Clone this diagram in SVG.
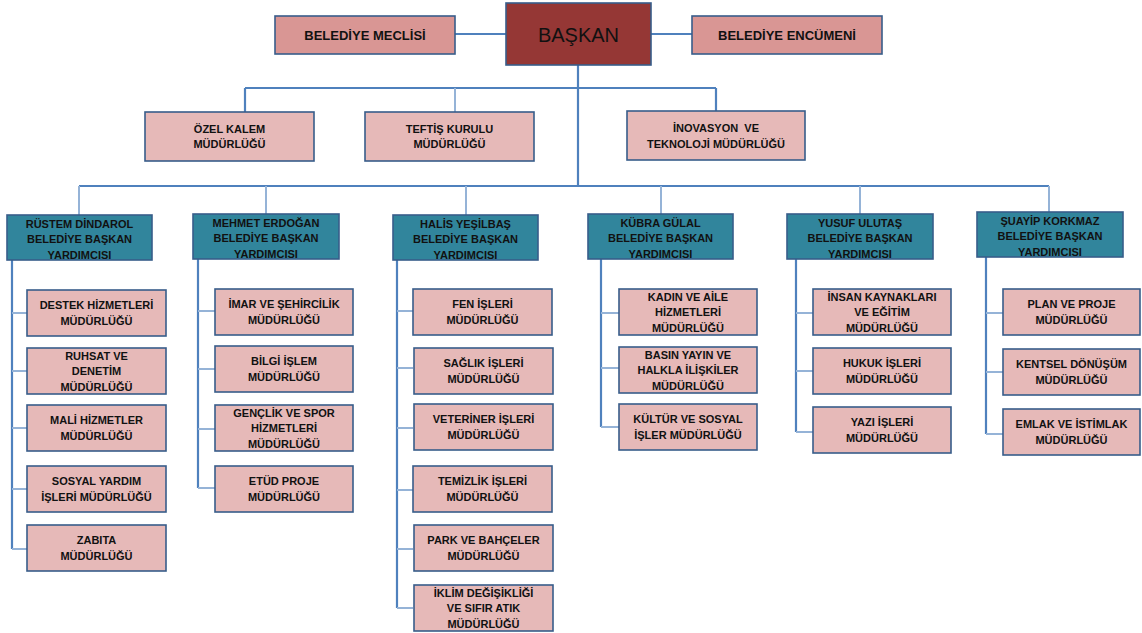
<svg xmlns="http://www.w3.org/2000/svg" width="1142" height="633" viewBox="0 0 1142 633">
<style>
  .bx{stroke:#385d8a;stroke-width:1.6}
  .top{fill:#d99694}
  .unit{fill:#e6b9b8}
  .dep{fill:#31859c}
  .head{fill:#953735}
  text{font-family:"Liberation Sans",Arial,sans-serif;font-weight:bold;fill:#111;text-anchor:middle}
  .t13{font-size:13px}
  .t11{font-size:11px}
  .t10{font-size:11px}
  .big{font-size:20px;font-weight:normal}
  .main{stroke:#4f81bd;stroke-width:2.2;fill:none}
  .sub{stroke:#95b3d7;stroke-width:2;fill:none}
</style>
<rect width="1142" height="633" fill="#ffffff"/>
<g id="connectors">
  <path class="main" d="M455,34H506M651,34H692M578,65V186M245,88H716M245,88V112M716,88V111M79,186H1049"/>
  <path class="sub" d="M455,88V112M79,186V215M266,186V214M466,186V215M661,186V214M860,186V214M1049,186V212"/>
  <path class="main" d="M12,260V549M198,259V488M397,260V608M601,259V427M796,259V432M986,257V434"/>
  <path class="sub" d="M12,313H27M12,371H27M12,428H27M12,489H27M12,549H27"/>
  <path class="sub" d="M198,311H215M198,369H215M198,429H215M198,488H215"/>
  <path class="sub" d="M397,311H413M397,368H413M397,428H413M397,490H413M397,549H413M397,608H413"/>
  <path class="sub" d="M601,313H619M601,368H619M601,427H619"/>
  <path class="sub" d="M796,313H813M796,371H813M796,432H813"/>
  <path class="sub" d="M986,313H1003M986,372H1003M986,434H1003"/>
</g>
<g id="baskan"><rect class="bx head" x="506" y="3" width="145" height="62"/><text class="big" x="578.5" y="42">BAŞKAN</text></g>
<g id="meclis"><rect class="bx top" x="275" y="16" width="180" height="38"/><text class="t13" x="365" y="40">BELEDİYE MECLİSİ</text></g>
<g id="encumen"><rect class="bx top" x="692" y="16" width="190" height="38"/><text class="t13" x="787" y="40">BELEDİYE ENCÜMENİ</text></g>
<g id="ozel-kalem"><rect class="bx unit" x="145" y="112" width="169" height="49"/><text class="t10" x="229.5" y="133">ÖZEL KALEM</text><text class="t10" x="229.5" y="148">MÜDÜRLÜĞÜ</text></g>
<g id="teftis"><rect class="bx unit" x="365" y="112" width="169" height="49"/><text class="t10" x="449.5" y="133">TEFTİŞ KURULU</text><text class="t10" x="449.5" y="148">MÜDÜRLÜĞÜ</text></g>
<g id="inovasyon"><rect class="bx unit" x="627" y="111" width="178" height="49"/><text class="t11" x="716" y="132" xml:space="preserve">İNOVASYON  VE</text><text class="t11" x="716" y="148">TEKNOLOJİ MÜDÜRLÜĞÜ</text></g>

<g id="dep-rustem"><rect class="bx dep" x="7" y="215" width="145" height="45"/><text class="t11" x="79.5" y="227.5">RÜSTEM DİNDAROL</text><text class="t11" x="79.5" y="243">BELEDİYE BAŞKAN</text><text class="t11" x="79.5" y="258.5">YARDIMCISI</text></g>
<g id="dep-mehmet"><rect class="bx dep" x="193" y="214" width="146" height="45"/><text class="t11" x="266" y="226.5">MEHMET ERDOĞAN</text><text class="t11" x="266" y="242">BELEDİYE BAŞKAN</text><text class="t11" x="266" y="257.5">YARDIMCISI</text></g>
<g id="dep-halis"><rect class="bx dep" x="393" y="215" width="145" height="45"/><text class="t11" x="465.5" y="227.5">HALİS YEŞİLBAŞ</text><text class="t11" x="465.5" y="243">BELEDİYE BAŞKAN</text><text class="t11" x="465.5" y="258.5">YARDIMCISI</text></g>
<g id="dep-kubra"><rect class="bx dep" x="588" y="214" width="145" height="45"/><text class="t11" x="660.5" y="226.5">KÜBRA GÜLAL</text><text class="t11" x="660.5" y="242">BELEDİYE BAŞKAN</text><text class="t11" x="660.5" y="257.5">YARDIMCISI</text></g>
<g id="dep-yusuf"><rect class="bx dep" x="787" y="214" width="146" height="45"/><text class="t11" x="860" y="226.5">YUSUF ULUTAŞ</text><text class="t11" x="860" y="242">BELEDİYE BAŞKAN</text><text class="t11" x="860" y="257.5">YARDIMCISI</text></g>
<g id="dep-suayip"><rect class="bx dep" x="977" y="212" width="146" height="45"/><text class="t11" x="1050" y="224.5">ŞUAYİP KORKMAZ</text><text class="t11" x="1050" y="240">BELEDİYE BAŞKAN</text><text class="t11" x="1050" y="255.5">YARDIMCISI</text></g>

<g id="destek"><rect class="bx unit" x="27" y="290" width="139" height="46"/><text class="t11" x="96.5" y="309.25">DESTEK HİZMETLERİ</text><text class="t11" x="96.5" y="324.75">MÜDÜRLÜĞÜ</text></g>
<g id="ruhsat"><rect class="bx unit" x="27" y="348" width="139" height="46"/><text class="t11" x="96.5" y="359.5">RUHSAT VE</text><text class="t11" x="96.5" y="375">DENETİM</text><text class="t11" x="96.5" y="390.5">MÜDÜRLÜĞÜ</text></g>
<g id="mali"><rect class="bx unit" x="27" y="405" width="139" height="46"/><text class="t11" x="96.5" y="424.25">MALİ HİZMETLER</text><text class="t11" x="96.5" y="439.75">MÜDÜRLÜĞÜ</text></g>
<g id="sosyal-yardim"><rect class="bx unit" x="27" y="466" width="139" height="46"/><text class="t11" x="96.5" y="485.25">SOSYAL YARDIM</text><text class="t11" x="96.5" y="500.75">İŞLERİ MÜDÜRLÜĞÜ</text></g>
<g id="zabita"><rect class="bx unit" x="27" y="525" width="139" height="46"/><text class="t11" x="96.5" y="544.25">ZABITA</text><text class="t11" x="96.5" y="559.75">MÜDÜRLÜĞÜ</text></g>

<g id="imar"><rect class="bx unit" x="215" y="289" width="138" height="46"/><text class="t11" x="284" y="308.25">İMAR VE ŞEHİRCİLİK</text><text class="t11" x="284" y="323.75">MÜDÜRLÜĞÜ</text></g>
<g id="bilgi-islem"><rect class="bx unit" x="215" y="346" width="138" height="46"/><text class="t11" x="284" y="365.25">BİLGİ İŞLEM</text><text class="t11" x="284" y="380.75">MÜDÜRLÜĞÜ</text></g>
<g id="genclik"><rect class="bx unit" x="215" y="405" width="138" height="46"/><text class="t11" x="284" y="416.5">GENÇLİK VE SPOR</text><text class="t11" x="284" y="432">HİZMETLERİ</text><text class="t11" x="284" y="447.5">MÜDÜRLÜĞÜ</text></g>
<g id="etud"><rect class="bx unit" x="215" y="466" width="138" height="46"/><text class="t11" x="284" y="485.25">ETÜD PROJE</text><text class="t11" x="284" y="500.75">MÜDÜRLÜĞÜ</text></g>

<g id="fen"><rect class="bx unit" x="413" y="289" width="139" height="46"/><text class="t11" x="482.5" y="308.25">FEN İŞLERİ</text><text class="t11" x="482.5" y="323.75">MÜDÜRLÜĞÜ</text></g>
<g id="saglik"><rect class="bx unit" x="414" y="348" width="139" height="46"/><text class="t11" x="483.5" y="367.25">SAĞLIK İŞLERİ</text><text class="t11" x="483.5" y="382.75">MÜDÜRLÜĞÜ</text></g>
<g id="veteriner"><rect class="bx unit" x="414" y="404" width="139" height="46"/><text class="t11" x="483.5" y="423.25">VETERİNER İŞLERİ</text><text class="t11" x="483.5" y="438.75">MÜDÜRLÜĞÜ</text></g>
<g id="temizlik"><rect class="bx unit" x="413" y="466" width="139" height="46"/><text class="t11" x="482.5" y="485.25">TEMİZLİK İŞLERİ</text><text class="t11" x="482.5" y="500.75">MÜDÜRLÜĞÜ</text></g>
<g id="park"><rect class="bx unit" x="414" y="525" width="139" height="46"/><text class="t11" x="483.5" y="544.25">PARK VE BAHÇELER</text><text class="t11" x="483.5" y="559.75">MÜDÜRLÜĞÜ</text></g>
<g id="iklim"><rect class="bx unit" x="414" y="585" width="139" height="46"/><text class="t11" x="483.5" y="596.5">İKLİM DEĞİŞİKLİĞİ</text><text class="t11" x="483.5" y="612">VE SIFIR ATIK</text><text class="t11" x="483.5" y="627.5">MÜDÜRLÜĞÜ</text></g>

<g id="kadin"><rect class="bx unit" x="619" y="289" width="138" height="46"/><text class="t11" x="688" y="300.5">KADIN VE AİLE</text><text class="t11" x="688" y="316">HİZMETLERİ</text><text class="t11" x="688" y="331.5">MÜDÜRLÜĞÜ</text></g>
<g id="basin"><rect class="bx unit" x="619" y="347" width="138" height="46"/><text class="t11" x="688" y="358.5">BASIN YAYIN VE</text><text class="t11" x="688" y="374">HALKLA İLİŞKİLER</text><text class="t11" x="688" y="389.5">MÜDÜRLÜĞÜ</text></g>
<g id="kultur"><rect class="bx unit" x="619" y="404" width="138" height="46"/><text class="t11" x="688" y="423.25">KÜLTÜR VE SOSYAL</text><text class="t11" x="688" y="438.75">İŞLER MÜDÜRLÜĞÜ</text></g>

<g id="insan"><rect class="bx unit" x="813" y="289" width="138" height="46"/><text class="t11" x="882" y="300.5">İNSAN KAYNAKLARI</text><text class="t11" x="882" y="316">VE EĞİTİM</text><text class="t11" x="882" y="331.5">MÜDÜRLÜĞÜ</text></g>
<g id="hukuk"><rect class="bx unit" x="813" y="348" width="138" height="46"/><text class="t11" x="882" y="367.25">HUKUK İŞLERİ</text><text class="t11" x="882" y="382.75">MÜDÜRLÜĞÜ</text></g>
<g id="yazi"><rect class="bx unit" x="813" y="407" width="138" height="46"/><text class="t11" x="882" y="426.25">YAZI İŞLERİ</text><text class="t11" x="882" y="441.75">MÜDÜRLÜĞÜ</text></g>

<g id="plan"><rect class="bx unit" x="1003" y="289" width="137" height="46"/><text class="t11" x="1071.5" y="308.25">PLAN VE PROJE</text><text class="t11" x="1071.5" y="323.75">MÜDÜRLÜĞÜ</text></g>
<g id="kentsel"><rect class="bx unit" x="1003" y="349" width="137" height="46"/><text class="t11" x="1071.5" y="368.25">KENTSEL DÖNÜŞÜM</text><text class="t11" x="1071.5" y="383.75">MÜDÜRLÜĞÜ</text></g>
<g id="emlak"><rect class="bx unit" x="1003" y="409" width="137" height="46"/><text class="t11" x="1071.5" y="428.25">EMLAK VE İSTİMLAK</text><text class="t11" x="1071.5" y="443.75">MÜDÜRLÜĞÜ</text></g>
</svg>
